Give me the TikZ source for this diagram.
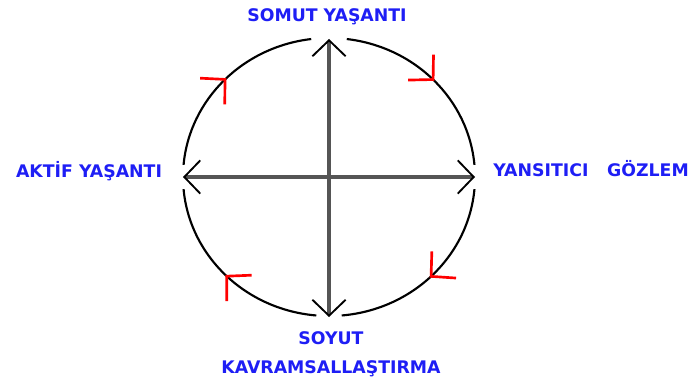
\documentclass[tikz,border=0pt]{standalone}
\usepackage{fontspec}
\setmainfont{DejaVu Sans}
\usetikzlibrary{arrows.meta,decorations.markings}
\definecolor{labelblue}{RGB}{30,30,245}
\definecolor{axisgray}{RGB}{85,85,85}

\begin{document}
\begin{tikzpicture}[
x=0.75pt, y=0.75pt,
every node/.style={
text=labelblue,
font=\bfseries\fontsize{13}{22}\selectfont,
align=center,
inner sep=0pt
},
axis/.style={
line width=3pt,
draw=axisgray,
>={Straight Barb[length=12pt,width=25pt,line width=1.4pt,color=black]},
<->
},
cyclearc/.style={
line width=1.6pt,
postaction={decorate},
decoration={markings,
mark=at position 0.51 with {\arrow{Straight Barb[length=13pt,width=27pt,line width=2pt,color=red]}}}
}
]

\useasboundingbox (0,0) rectangle (691,382);

\coordinate (C) at (329,205);
\coordinate (top) at (329,343);
\coordinate (bottom) at (329,65);
\coordinate (left) at (183,205);
\coordinate (right) at (475,205);

\node (somut) at (327,365)
{SOMUT YAŞANTI};

\node (aktif) at (89,211)
{AKTİF YAŞANTI};

\node[anchor=west] (yansitici) at (493,213)
{YANSITICI\hspace{14pt}GÖZLEM};

\node (soyut) at (331,28)
{SOYUT\\KAVRAMSALLAŞTIRMA};

\draw[cyclearc] ([shift={(175:146 and 139)}]C) arc[start angle=175, end angle=97, x radius=146, y radius=139];
\draw[cyclearc] ([shift={(83:146 and 139)}]C) arc[start angle=83, end angle=5, x radius=146, y radius=139];
\draw[cyclearc] ([shift={(-5:146 and 139)}]C) arc[start angle=-5, end angle=-85, x radius=146, y radius=139];
\draw[cyclearc] ([shift={(-95:146 and 139)}]C) arc[start angle=-95, end angle=-175, x radius=146, y radius=139];

\draw[axis] (left) -- (right);
\draw[axis] (bottom) -- (top);

\end{tikzpicture}
\end{document}
